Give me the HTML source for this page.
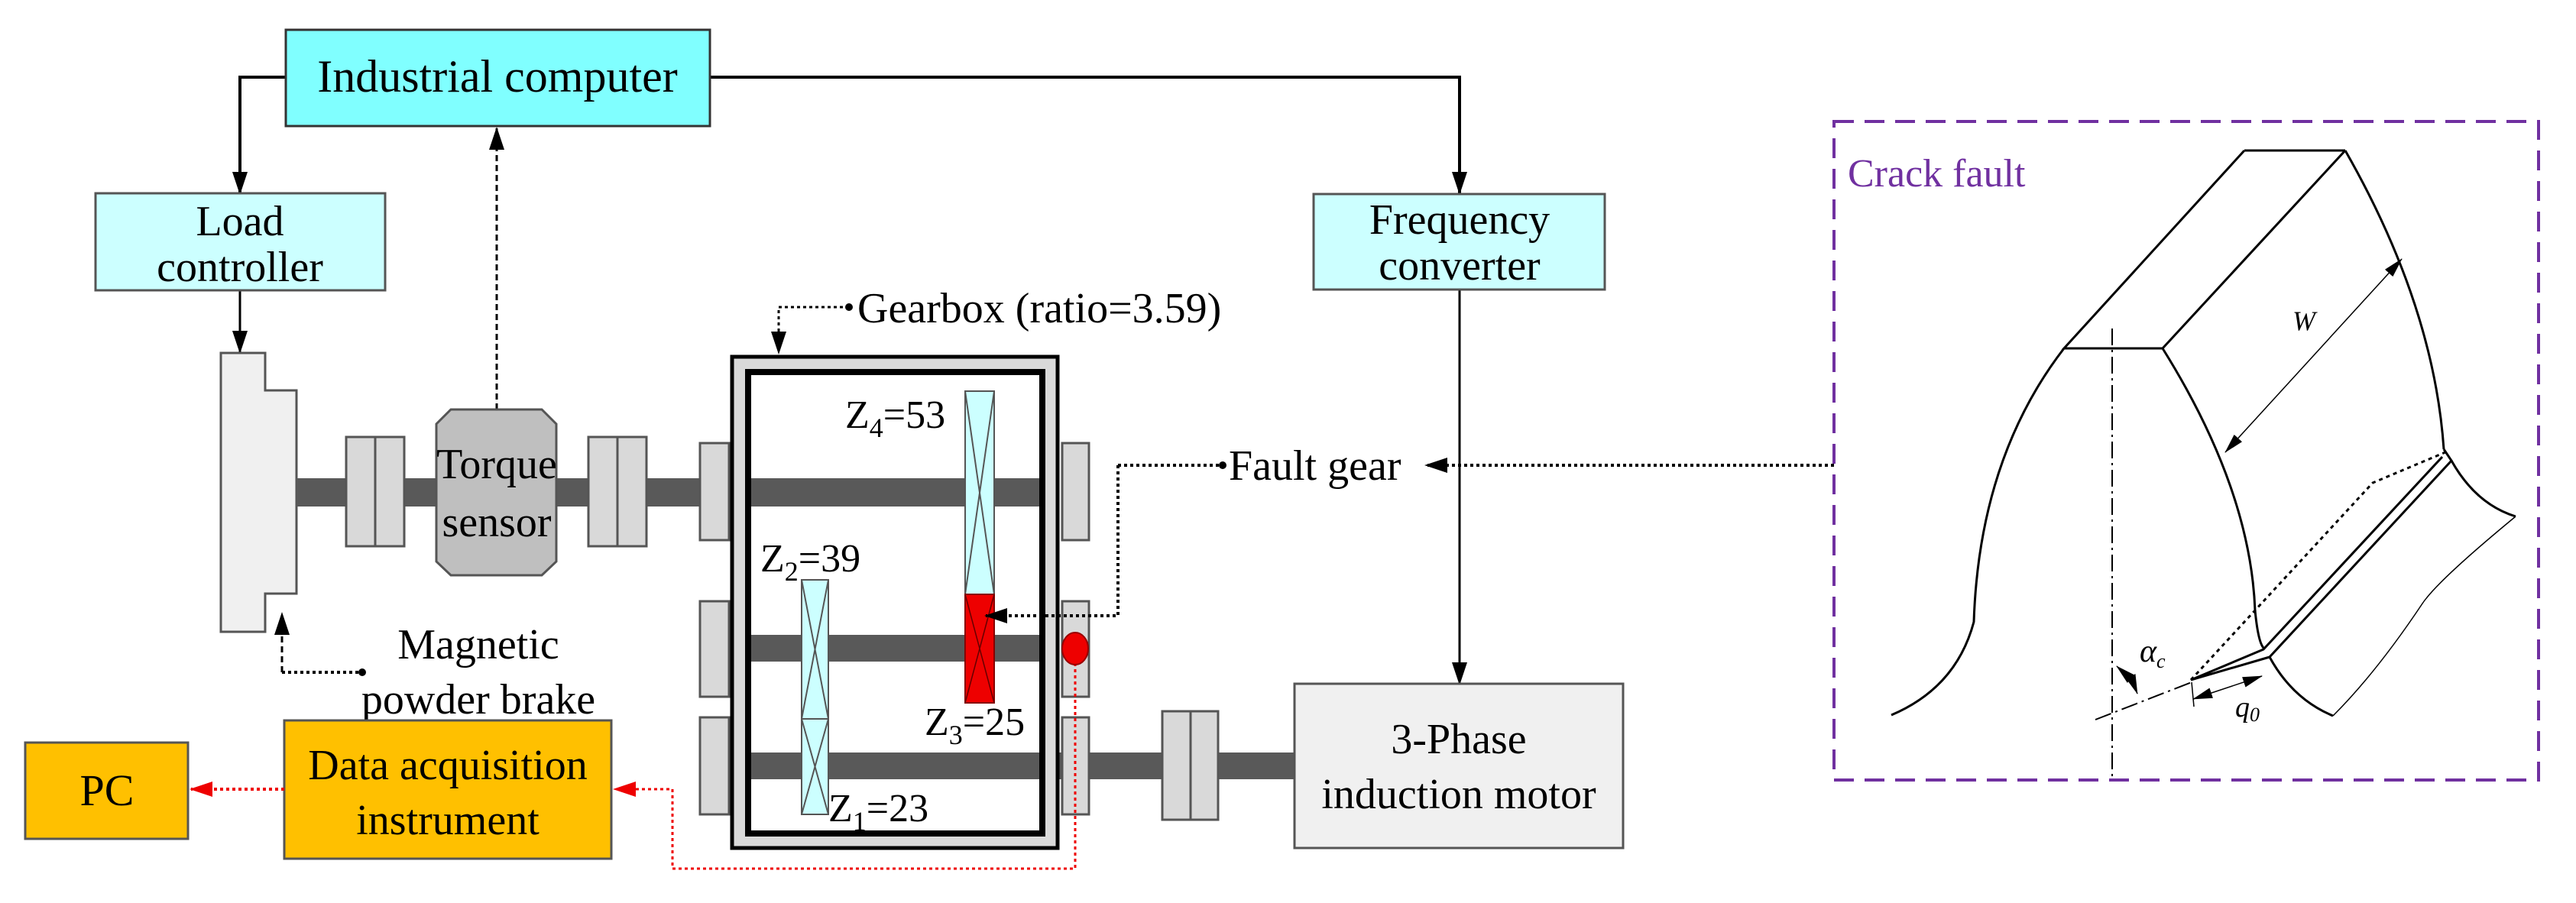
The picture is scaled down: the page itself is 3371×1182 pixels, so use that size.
<!DOCTYPE html>
<html><head><meta charset="utf-8"><style>html,body{margin:0;padding:0;background:#fff}svg{display:block}</style></head><body>
<svg width="3371" height="1182" viewBox="0 0 3371 1182" xmlns="http://www.w3.org/2000/svg" font-family="'Liberation Serif', 'Times New Roman', 'DejaVu Serif', serif">
<defs>
<marker id="ab" markerWidth="30" markerHeight="30" refX="28" refY="15" orient="auto" markerUnits="userSpaceOnUse"><path d="M0,5 L30,15 L0,25z" fill="#000"/></marker>
<marker id="ar" markerWidth="30" markerHeight="30" refX="28" refY="15" orient="auto" markerUnits="userSpaceOnUse"><path d="M0,5 L30,15 L0,25z" fill="#e00"/></marker>
<marker id="as" markerWidth="26" markerHeight="20" refX="25" refY="10" orient="auto" markerUnits="userSpaceOnUse"><path d="M0,3 L26,10 L0,17z" fill="#000"/></marker>
<marker id="asr" markerWidth="26" markerHeight="20" refX="1" refY="10" orient="auto" markerUnits="userSpaceOnUse"><path d="M26,3 L0,10 L26,17z" fill="#000"/></marker>
</defs>
<!-- top connectors -->
<polyline points="374,101 314,101 314,253" fill="none" stroke="#000" stroke-width="4" marker-end="url(#ab)"/>
<polyline points="929,101 1910,101 1910,253" fill="none" stroke="#000" stroke-width="4" marker-end="url(#ab)"/>
<line x1="650" y1="536" x2="650" y2="168" stroke="#000" stroke-width="3" stroke-dasharray="8,5" marker-end="url(#ab)"/>
<line x1="314" y1="380" x2="314" y2="461" stroke="#000" stroke-width="3" marker-end="url(#ab)"/>
<line x1="1910" y1="379" x2="1910" y2="895" stroke="#000" stroke-width="3" marker-end="url(#ab)"/>
<!-- boxes -->
<rect x="374" y="39" width="555" height="126" fill="#80ffff" stroke="#333" stroke-width="3"/>
<text x="651" y="120" font-size="60" text-anchor="middle">Industrial computer</text>
<rect x="125" y="253" width="379" height="127" fill="#ccffff" stroke="#555" stroke-width="3"/>
<text x="314" y="308" font-size="56" text-anchor="middle">Load</text>
<text x="314" y="368" font-size="56" text-anchor="middle">controller</text>
<rect x="1719" y="254" width="381" height="125" fill="#ccffff" stroke="#555" stroke-width="3"/>
<text x="1910" y="306" font-size="56" text-anchor="middle">Frequency</text>
<text x="1910" y="366" font-size="56" text-anchor="middle">converter</text>
<!-- brake -->
<path d="M289,462 H347 V511 H388 V777 H347 V827 H289 Z" fill="#f0f0f0" stroke="#555" stroke-width="3"/>
<!-- shafts -->
<rect x="388" y="626" width="976" height="37" fill="#595959"/>
<rect x="1364" y="985" width="333" height="35" fill="#595959"/>
<!-- couplings -->
<g fill="#d9d9d9" stroke="#555" stroke-width="3">
<rect x="453" y="572" width="38" height="143"/><rect x="491" y="572" width="38" height="143"/>
<rect x="770" y="572" width="38" height="143"/><rect x="808" y="572" width="38" height="143"/>
<rect x="1521" y="931" width="37" height="142"/><rect x="1558" y="931" width="36" height="142"/>
<rect x="916" y="580" width="38" height="127"/><rect x="1390" y="580" width="35" height="127"/>
<rect x="916" y="787" width="38" height="125"/><rect x="1390" y="787" width="35" height="125"/>
<rect x="916" y="939" width="38" height="127"/><rect x="1390" y="939" width="35" height="127"/>
</g>
<!-- torque sensor -->
<path d="M590,536 H709 L728,555 V735 L709,753 H590 L571,735 V555 Z" fill="#bfbfbf" stroke="#555" stroke-width="3"/>
<text x="650" y="626" font-size="56" text-anchor="middle">Torque</text>
<text x="650" y="702" font-size="56" text-anchor="middle">sensor</text>
<!-- gearbox -->
<rect x="958" y="467" width="426" height="643" fill="#d9d9d9" stroke="#000" stroke-width="5"/>
<rect x="979" y="487" width="385" height="604" fill="#fff" stroke="#000" stroke-width="8"/>
<rect x="983" y="626" width="377" height="37" fill="#595959"/>
<rect x="983" y="831" width="377" height="35" fill="#595959"/>
<rect x="983" y="985" width="377" height="35" fill="#595959"/>
<!-- gears -->
<g stroke="#555" stroke-width="2" fill="#ccffff">
<rect x="1263" y="512" width="38" height="266"/><path d="M1263,512 L1301,778 M1301,512 L1263,778" fill="none"/>
<rect x="1049" y="759" width="35" height="182"/><path d="M1049,759 L1084,941 M1084,759 L1049,941" fill="none"/>
<rect x="1049" y="941" width="35" height="125"/><path d="M1049,941 L1084,1066 M1084,941 L1049,1066" fill="none"/>
</g>
<rect x="1263" y="778" width="38" height="142" fill="#ee0000" stroke="#800" stroke-width="2"/>
<path d="M1263,778 L1301,920 M1301,778 L1263,920" stroke="#600" stroke-width="1.5"/>
<text x="1106" y="560" font-size="52">Z<tspan font-size="36" dy="12">4</tspan><tspan dy="-12">=53</tspan></text>
<text x="995" y="748" font-size="52">Z<tspan font-size="36" dy="12">2</tspan><tspan dy="-12">=39</tspan></text>
<text x="1210" y="962" font-size="52">Z<tspan font-size="36" dy="12">3</tspan><tspan dy="-12">=25</tspan></text>
<text x="1084" y="1075" font-size="52">Z<tspan font-size="36" dy="12">1</tspan><tspan dy="-12">=23</tspan></text>
<!-- gearbox label -->
<polyline points="1111,402 1019,402 1019,462" fill="none" stroke="#000" stroke-width="3" stroke-dasharray="4,4" marker-end="url(#ab)"/>
<circle cx="1111" cy="402" r="5"/>
<text x="1122" y="422" font-size="56">Gearbox (ratio=3.59)</text>
<!-- fault gear -->
<polyline points="1463,609 1463,806 1290,806" fill="none" stroke="#000" stroke-width="4" stroke-dasharray="4,4" marker-end="url(#ab)"/>
<line x1="1463" y1="609" x2="1600" y2="609" stroke="#000" stroke-width="4" stroke-dasharray="4,4"/>
<circle cx="1600" cy="609" r="5"/>
<text x="1608" y="628" font-size="56">Fault gear</text>
<line x1="2400" y1="609" x2="1866" y2="609" stroke="#000" stroke-width="4" stroke-dasharray="4,4" marker-end="url(#ab)"/>
<!-- magnetic brake label -->
<polyline points="369,880 369,803" fill="none" stroke="#000" stroke-width="3" stroke-dasharray="8,5" marker-end="url(#ab)"/>
<polyline points="369,880 474,880" fill="none" stroke="#000" stroke-width="4" stroke-dasharray="4,4"/>
<circle cx="474" cy="880" r="5"/>
<text x="626" y="862" font-size="56" text-anchor="middle">Magnetic</text>
<text x="626" y="934" font-size="56" text-anchor="middle">powder brake</text>
<!-- motor -->
<rect x="1694" y="895" width="430" height="215" fill="#f0f0f0" stroke="#555" stroke-width="3"/>
<text x="1909" y="986" font-size="56" text-anchor="middle">3-Phase</text>
<text x="1909" y="1058" font-size="56" text-anchor="middle">induction motor</text>
<!-- DAQ & PC -->
<rect x="372" y="943" width="428" height="181" fill="#ffc000" stroke="#555" stroke-width="3"/>
<text x="586" y="1020" font-size="56" text-anchor="middle">Data acquisition</text>
<text x="586" y="1092" font-size="56" text-anchor="middle">instrument</text>
<rect x="33" y="972" width="213" height="126" fill="#ffc000" stroke="#555" stroke-width="3"/>
<text x="140" y="1054" font-size="58" text-anchor="middle">PC</text>
<line x1="372" y1="1033" x2="250" y2="1033" stroke="#e00" stroke-width="4" stroke-dasharray="4,4" marker-end="url(#ar)"/>
<polyline points="1407,860 1407,1137 880,1137 880,1033 804,1033" fill="none" stroke="#e00" stroke-width="3" stroke-dasharray="4,4" marker-end="url(#ar)"/>
<ellipse cx="1407" cy="849" rx="17" ry="21" fill="#ee0000" stroke="#900" stroke-width="2"/>
<!-- crack fault panel -->
<rect x="2400" y="159" width="922" height="862" fill="none" stroke="#7030a0" stroke-width="4" stroke-dasharray="26,14"/>
<text x="2418" y="244" font-size="52" fill="#7030a0">Crack fault</text>
<g fill="none" stroke="#000" stroke-width="3">
<path d="M2937,197 H3069 M2937,197 L2701,456 H2830 M3069,197 L2830,456"/>
<path d="M2701,456 Q2590,600 2583,814 Q2560,900 2475,936"/>
<path d="M2830,456 Q2945,640 2951,799 Q2955,840 2962,848"/>
<path d="M3069,197 Q3185,400 3198,588"/>
<path d="M2867,890 L2962,850 L3196,598 M2867,890 L2970,860 L3208,603 L3198,588"/>
<path d="M3208,603 Q3240,660 3292,676"/>
<path d="M2970,860 Q3000,915 3053,937"/>
</g>
<path d="M3292,676 Q3190,760 3170,790 Q3110,880 3053,937" fill="none" stroke="#000" stroke-width="1.5"/>
<path d="M2867,890 L3105,632 L3200,592" fill="none" stroke="#000" stroke-width="3" stroke-dasharray="5,5"/>
<line x1="2764" y1="430" x2="2764" y2="1021" stroke="#000" stroke-width="2" stroke-dasharray="22,6,3,6"/>
<line x1="2742" y1="942" x2="2868" y2="893" stroke="#000" stroke-width="2" stroke-dasharray="22,6,3,6"/>
<line x1="3143" y1="339" x2="2912" y2="592" stroke="#000" stroke-width="1.5" marker-start="url(#asr)" marker-end="url(#as)"/>
<line x1="2870" y1="915" x2="2960" y2="885" stroke="#000" stroke-width="1.5" marker-start="url(#asr)" marker-end="url(#as)"/>
<line x1="2868" y1="893" x2="2871" y2="925" stroke="#000" stroke-width="1.5"/>
<path d="M2770,872 Q2790,890 2797,908" fill="none" stroke="#000" stroke-width="1.5" marker-start="url(#asr)" marker-end="url(#as)"/>
<text x="3000" y="432" font-size="36" font-style="italic">W</text>
<text x="2800" y="866" font-size="42" font-style="italic">α<tspan font-size="26" dy="8">c</tspan></text>
<text x="2925" y="938" font-size="38" font-style="italic">q<tspan font-size="26" dy="6">0</tspan></text>
</svg>
</body></html>
